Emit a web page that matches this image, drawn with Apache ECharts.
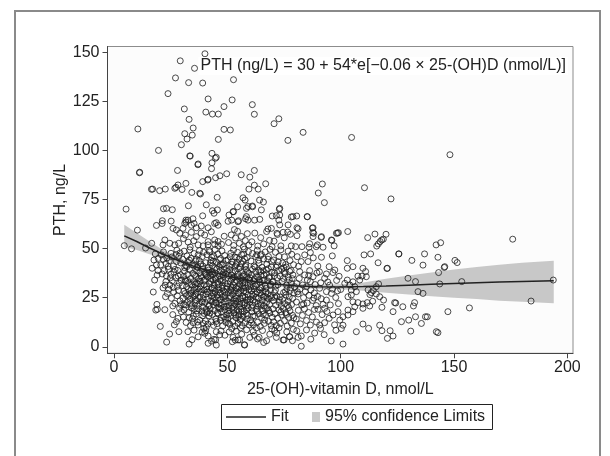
<!DOCTYPE html>
<html><head><meta charset="utf-8">
<script src="https://cdn.jsdelivr.net/npm/echarts@6/dist/echarts.min.js"></script>
<style>html,body{margin:0;padding:0;background:#fff}#c{width:610px;height:456px}</style>
</head><body><div id="c"></div>
<script>
const xTicks = [0, 50, 100, 150, 200];
const yTicks = [0, 25, 50, 75, 100, 125, 150];
const equation = 'PTH (ng/L) = 30 + 54*e[\u22120.06 \u00d7 25-(OH)D (nmol/L)]';

// fitted curve and 95% confidence limits
const fitX    = [4.5, 10, 15, 20, 25, 30, 35, 40, 50, 60, 70, 80, 90, 100, 110, 120, 130, 140, 150, 160, 170, 180, 194];
const fitY    = [56.5, 53.6, 50.7, 48.0, 45.5, 43.2, 41.1, 39.2, 36.0, 33.6, 32.0, 31.1, 30.6, 30.5, 30.7, 31.0, 31.4, 31.8, 32.2, 32.6, 33.0, 33.3, 33.7];
const ciLower = [51.0, 49.3, 47.4, 45.6, 43.6, 41.6, 39.7, 37.9, 34.8, 32.5, 30.9, 30.0, 29.6, 29.3, 28.6, 27.5, 26.6, 25.8, 25.0, 24.3, 23.5, 22.9, 22.2];
const ciUpper = [62.2, 58.0, 54.1, 50.5, 47.4, 44.8, 42.5, 40.5, 37.2, 34.7, 33.1, 32.2, 31.6, 31.8, 32.8, 34.6, 36.3, 37.9, 39.4, 40.6, 41.8, 42.8, 43.8];

// observations [25-(OH)D, PTH]
const highPTH = [[29.2,145.6],[35.5,141.8],[40.1,149.2],[27.1,136.9],[32.9,134.5],[39.1,134.3],[52.7,136.0],[23.8,128.9],[41.5,126.2],[52.1,125.7],[31.0,121.1],[40.5,119.5],[43.4,118.5],[46.0,118.5],[48.5,122.3],[61.0,123.3],[61.9,118.4],[33.1,115.8],[72.7,116.1],[70.6,113.6],[34.9,111.4],[10.5,110.9],[31.2,108.5],[34.5,107.8],[32.2,105.8],[48.5,110.7],[51.3,110.4],[46.0,105.6],[76.7,105.1],[83.4,109.2],[29.7,102.9],[19.6,100.0],[43.2,98.5],[45.1,96.5],[33.6,97.1],[43.2,93.7],[37.0,92.7],[43.0,90.7],[11.2,88.6],[28.0,89.8],[49.7,88.1],[46.7,87.1],[41.3,84.9],[39.1,84.1],[44.8,86.1],[56.1,87.6],[59.9,86.4],[61.9,89.8],[61.9,82.3],[66.9,83.0],[59.5,80.3],[63.6,80.3],[91.9,82.9],[90.1,78.3],[92.8,73.4],[17.0,80.3],[20.1,79.5],[22.6,80.3],[27.3,81.2],[31.7,83.2],[30.0,80.1],[34.3,78.6],[38.1,77.8],[45.5,76.1],[56.9,75.9],[57.8,74.7],[64.2,74.7],[65.9,73.7],[5.3,70.1],[21.8,70.3],[25.7,69.8],[32.8,71.8],[40.7,72.3],[43.4,69.3],[52.7,68.8],[61.1,71.3],[54.5,71.3],[72.9,70.1],[85.3,66.2],[78.2,66.1],[80.6,66.6],[69.8,66.6],[72.7,64.5],[64.3,64.9],[58.0,65.2],[54.9,64.2],[50.3,63.9],[45.1,63.2],[39.1,66.7],[34.8,65.2],[31.7,64.5],[25.2,64.0],[21.3,64.2],[18.7,61.8],[31.7,63.5],[10.3,59.4],
[23.1,70.5],[45.6,69.7],[44.1,68.0],[21.2,62.8],[26.0,60.3],[30.4,60.3],[31.2,62.8],[32.6,64.5],[34.1,61.9],[35.3,62.8],[36.3,60.6],[38.5,61.5],[41.5,60.6],[44.4,62.8],[45.9,61.9],[59.1,71.4],[61.0,71.7],[58.4,70.5],[65.0,69.7],[52.5,68.8],[50.7,67.1],[51.9,64.5],[54.7,63.7],[58.4,66.3],[59.1,64.5],[62.0,64.5],[71.6,66.8],[73.1,67.1],[85.2,66.3],[69.4,60.3],[73.1,62.1],[76.8,62.1],[80.7,60.6],[67.9,60.0],[87.8,60.6],[37.8,78.2],[16.5,80.2],[26.8,80.7],[28.2,82.4],[33.4,97.2],[37.1,93.1],[44.7,96.0],[11.3,88.9],[41.5,85.3],[73.1,70.5],[78.9,66.3],[87.5,60.5],[81.2,60.1]];

const rightTail = [[110.3,46.8],[113.2,47.3],[125.7,47.3],[137.0,47.3],[142.9,45.6],[102.9,43.9],[105.4,40.8],[102.9,40.0],[109.8,40.0],[111.0,38.3],[111.3,35.7],[109.4,36.0],[116.5,42.8],[120.6,40.0],[131.4,44.0],[136.3,41.6],[145.9,40.8],[143.2,37.8],[102.9,34.0],[105.4,33.1],[107.6,36.0],[108.4,34.0],[106.2,30.6],[104.0,31.5],[101.8,32.3],[100.0,29.2],[116.7,32.0],[129.7,34.9],[133.0,33.2],[143.7,32.0],[104.7,28.9],[106.9,28.1],[104.7,26.4],[103.2,25.5],[113.5,27.6],[115.7,26.9],[117.2,25.5],[134.1,28.1],[136.3,27.2],[105.4,22.9],[107.6,22.5],[109.8,21.8],[111.7,22.5],[112.8,20.8],[109.8,19.6],[106.2,20.4],[103.2,18.7],[105.4,17.9],[103.2,16.2],[101.0,15.3],[101.0,11.0],[100.3,9.3],[118.2,20.1],[123.8,22.5],[123.1,17.9],[132.6,22.5],[132.1,20.8],[126.8,12.8],[130.0,13.6],[133.0,15.3],[135.6,11.9],[137.4,15.3],[138.2,15.3],[109.8,11.6],[112.3,9.4],[117.2,11.0],[118.2,8.2],[121.8,8.2],[120.6,4.3],[123.1,5.5],[106.9,7.7],[130.9,8.0],[142.2,7.7],[142.9,7.2],[147.3,17.9],[101.0,1.4],
[103.1,58.7],[111.9,55.6],[116.6,52.4],[117.4,53.6],[118.1,54.4],[118.8,54.8],[120.0,57.3],[115.9,51.3],[115.1,57.4],[175.9,54.8],[142.1,51.9],[144.1,53.0],[150.4,44.0],[151.4,42.9],[145.7,40.4],[153.4,33.2],[193.8,34.0],[184.0,23.3],[156.8,19.8],[127.4,20.4],[124.3,22.3],[122.2,75.3],[110.5,81.0],[104.8,106.6],[148.2,97.8],[114.1,23.2],[112.9,26.6],[114.4,28.6],[118.9,23.8],[115.7,30.6],[112.1,29.0],[120.4,39.9],[125.6,47.3]];

const leftEdge = [[4.5,51.5],[7.7,49.9],[13.9,50.3],[16.6,52.7],[17.3,27.9],[18.4,18.7],[19.1,19.1],[17.6,44.2],[18.7,41.7],[19.4,38.8],[17.9,34.0],[19.0,36.5],[18.2,47.3],[19.5,45.0],[16.8,40.0],[18.9,21.6]];

const core20s = [[20.4,10.4],[24.5,6.5],[23.2,2.4],[28.6,7.7],
[28.2,14.5],[27.5,12.8],[29.7,17.9],[25.9,16.4],[22.4,18.9],[26.6,11.2],[28.9,19.6],
[23.5,27.2],[25.3,24.7],[26.8,22.1],[21.6,30.0],[24.1,29.3],[27.9,26.0],[29.1,23.4],[22.7,25.5],[28.4,28.7],[25.9,20.8],[29.6,21.5],[26.3,27.9],
[24.6,31.5],[21.2,37.1],[23.1,36.1],[22.1,38.8],[25.7,33.6],[27.2,35.2],[28.8,32.4],[26.4,38.1],[29.3,36.7],[24.0,39.5],[27.9,30.8],[29.6,33.9],[25.1,36.9],[28.1,38.9],[22.9,33.2],
[20.6,41.7],[27.5,43.4],[23.3,45.2],[25.1,47.6],[28.6,46.1],[21.8,48.3],[26.2,41.2],[29.4,42.7],[24.4,43.9],[27.7,49.2],[22.9,42.4],[29.1,47.8],
[22.4,54.4],[24.6,52.7],[26.8,51.9],[28.5,52.7],[21.6,51.9],[27.5,59.5],[29.0,57.8]];

const core30s = [[33.1,1.4],[32.6,7.7],[35.3,8.5],[37.1,5.1],[38.9,7.5],[34.4,3.6],[39.6,9.4],
[37.1,11.1],[30.6,15.2],[31.8,12.4],[32.9,17.6],[33.7,10.8],[34.6,14.3],[35.4,19.1],[36.2,16.7],[37.9,13.5],[38.7,18.2],[39.4,11.9],[30.9,18.8],[33.2,14.9],[36.8,12.6],[39.1,15.8],
[31.5,21.3],[30.4,24.8],[30.8,28.3],[31.9,26.1],[32.4,22.7],[32.8,29.4],[33.5,24.2],[33.9,27.3],[34.3,20.9],[34.8,25.6],[35.2,28.8],[35.7,22.4],[36.1,26.9],[36.5,23.5],[36.9,29.6],[37.4,21.7],[37.8,25.2],[38.2,27.8],[38.6,23.1],[39.0,20.4],[39.3,26.4],[39.7,28.9],[35.9,24.0],[33.0,25.9],
[30.2,31.2],[30.7,35.8],[31.1,38.6],[31.6,33.4],[32.0,30.6],[32.5,36.9],[32.9,32.7],[33.3,39.3],[33.8,34.8],[34.2,31.6],[34.7,37.4],[35.1,33.2],[35.6,30.3],[36.0,35.9],[36.4,38.8],[36.9,32.1],[37.3,34.6],[37.8,37.7],[38.2,31.0],[38.7,35.3],[39.1,39.6],[39.6,33.8],[31.4,34.1],[35.5,36.7],[38.0,33.3],
[30.3,44.6],[30.9,48.7],[31.6,41.5],[32.2,46.3],[32.8,43.0],[33.4,49.4],[34.0,45.1],[34.6,41.8],[35.3,47.5],[35.9,43.7],[36.5,40.6],[37.1,46.8],[37.7,49.0],[38.3,42.2],[38.9,45.9],[39.5,48.1],[31.2,40.3],[36.3,44.6],[39.2,41.1],
[31.5,56.9],[34.1,58.3],[36.3,56.1],[37.1,51.9],[39.3,51.4],[32.7,53.3],[30.6,55.1],[35.2,54.0],[38.4,57.9],[33.6,50.8]];

const core40s = [[40.0,6.9],[41.5,5.5],[44.1,3.8],[45.1,0.9],[45.1,7.7],[40.7,9.9],[41.5,1.8],[44.8,3.5],[47.2,8.1],[48.9,5.9],
[40.3,13.2],[40.9,17.4],[41.4,11.6],[41.9,15.8],[42.4,19.3],[42.9,12.7],[43.4,16.5],[43.9,10.9],[44.4,18.4],[44.9,14.1],[45.4,11.8],[45.9,16.9],[46.4,19.7],[46.9,13.5],[47.4,17.8],[47.9,10.6],[48.4,15.3],[48.9,18.9],[49.4,12.4],[49.8,16.2],
[40.2,22.6],[40.6,26.9],[41.0,29.3],[41.4,24.1],[41.8,20.8],[42.2,27.6],[42.6,23.4],[43.0,25.8],[43.4,29.7],[43.8,21.5],[44.2,24.9],[44.6,28.2],[45.0,22.3],[45.4,26.4],[45.8,20.2],[46.2,29.0],[46.6,23.8],[47.0,27.1],[47.4,21.1],[47.8,25.4],[48.2,28.6],[48.6,22.9],[49.0,26.2],[49.4,20.6],[49.8,29.4],[43.6,27.3],[47.2,24.0],
[40.1,33.9],[40.5,37.2],[40.9,30.7],[41.3,35.6],[41.7,39.1],[42.1,32.2],[42.5,36.4],[42.9,30.1],[43.3,38.2],[43.7,34.0],[44.1,31.5],[44.5,37.7],[44.9,35.2],[45.3,39.6],[45.7,32.8],[46.1,30.4],[46.5,36.1],[46.9,38.8],[47.3,33.5],[47.7,31.1],[48.1,35.8],[48.5,39.3],[48.9,32.6],[49.3,37.0],[49.7,30.9],[42.8,34.6],[46.7,34.3],
[40.4,42.8],[41.0,46.9],[41.6,40.5],[42.2,48.4],[42.8,44.1],[43.4,41.3],[44.0,46.2],[44.6,49.5],[45.2,43.0],[45.8,47.3],[46.4,40.9],[47.0,45.0],[47.6,48.8],[48.2,42.3],[48.8,46.5],[49.4,44.0],[43.7,43.6],[46.9,42.0],[41.9,49.1],
[40.0,56.9],[41.5,53.6],[44.4,54.4],[45.9,53.6],[41.5,51.9],[44.4,52.2],[45.9,51.4],[47.4,52.2],[48.6,56.3],[42.9,58.6]];

const core50s = [[53.5,3.4],[55.4,3.5],[57.5,1.1],[52.5,4.8],[54.7,3.5],[57.6,0.9],[59.9,4.8],[50.8,7.6],[51.9,9.3],[56.3,6.4],[58.5,8.7],[53.9,8.0],
[50.2,14.6],[50.6,18.3],[51.1,11.4],[51.5,16.0],[52.0,19.5],[52.4,12.9],[52.9,17.2],[53.3,10.5],[53.8,14.8],[54.2,18.7],[54.7,11.9],[55.1,16.4],[55.6,13.6],[56.0,19.2],[56.5,10.8],[56.9,15.5],[57.4,18.0],[57.8,12.3],[58.3,16.9],[58.7,14.2],[59.2,19.8],[59.6,11.1],
[50.1,23.3],[50.4,27.5],[50.8,21.0],[51.1,25.6],[51.5,29.1],[51.8,22.4],[52.2,26.7],[52.5,20.5],[52.9,24.2],[53.2,28.3],[53.6,21.8],[53.9,25.9],[54.3,29.6],[54.6,23.0],[55.0,27.1],[55.3,20.3],[55.7,24.6],[56.0,28.7],[56.4,22.2],[56.7,26.0],[57.1,29.9],[57.4,21.4],[57.8,25.3],[58.1,27.9],[58.5,23.7],[58.8,20.9],[59.2,26.5],[59.5,29.2],[59.9,22.8],[54.0,24.8],
[50.2,32.1],[50.6,36.3],[51.0,39.2],[51.4,30.6],[51.8,34.4],[52.2,37.8],[52.6,31.5],[53.0,35.5],[53.4,38.6],[53.8,30.2],[54.2,33.7],[54.6,37.0],[55.0,39.8],[55.4,31.9],[55.8,35.1],[56.2,38.3],[56.6,30.8],[57.0,34.0],[57.4,36.8],[57.8,32.6],[58.2,39.4],[58.6,35.7],[59.0,31.3],[59.4,37.5],[59.8,33.9],[53.1,33.0],[56.9,36.0],
[50.3,44.3],[50.9,41.0],[51.5,47.6],[52.1,43.2],[52.7,49.3],[53.3,45.7],[53.9,41.8],[54.5,48.1],[55.1,44.6],[55.7,40.4],[56.3,46.9],[56.9,43.5],[57.5,49.7],[58.1,41.6],[58.7,45.4],[59.3,48.5],[54.2,43.0],[57.2,47.2],[51.2,45.9],
[50.5,53.1],[51.7,57.0],[52.8,51.6],[53.6,55.4],[54.5,58.8],[55.3,52.7],[56.2,56.2],[57.0,50.9],[57.9,54.1],[58.8,57.6],[59.5,51.8],[53.1,59.7]];

const core60s = [[63.3,4.0],[67.3,3.1],[64.0,4.8],[61.4,7.8],[62.8,9.6],[65.5,8.3],[68.7,6.4],[69.6,9.1],
[60.3,13.7],[60.9,17.9],[61.5,11.2],[62.1,15.6],[62.7,19.0],[63.3,12.5],[63.9,16.8],[64.5,10.4],[65.1,14.9],[65.7,18.4],[66.3,11.9],[66.9,16.1],[67.5,19.6],[68.1,13.0],[68.7,17.2],[69.3,10.9],[69.8,15.1],
[60.2,24.2],[60.6,28.5],[61.0,21.3],[61.4,26.0],[61.8,29.5],[62.2,22.7],[62.6,25.2],[63.0,27.8],[63.4,20.6],[63.8,24.9],[64.2,29.0],[64.6,22.1],[65.0,26.5],[65.4,23.6],[65.8,28.2],[66.2,20.9],[66.6,25.7],[67.0,29.7],[67.4,22.9],[67.8,27.1],[68.2,24.4],[68.6,21.6],[69.0,28.8],[69.5,25.0],
[60.1,32.4],[60.6,36.8],[61.1,39.5],[61.5,30.7],[62.0,34.5],[62.5,38.1],[63.0,31.6],[63.4,35.4],[63.9,39.0],[64.4,32.9],[64.8,36.3],[65.3,30.2],[65.8,38.7],[66.2,34.0],[66.7,31.3],[67.2,37.2],[67.7,33.6],[68.1,39.8],[68.6,35.7],[69.1,31.9],[69.6,37.9],[64.0,34.2],
[60.4,43.7],[61.1,47.5],[61.8,41.2],[62.5,45.9],[63.2,49.2],[63.9,42.6],[64.6,46.4],[65.3,40.5],[66.0,44.8],[66.7,48.3],[67.4,42.0],[68.1,46.0],[68.8,49.6],[69.5,43.4],[65.0,47.1],
[60.8,53.5],[62.1,57.9],[63.4,51.3],[64.7,55.6],[66.0,52.4],[67.3,58.7],[68.6,54.2],[69.7,51.0]];

const core70s = [[75.0,3.5],[77.4,5.2],[74.6,3.5],[71.6,4.8],[77.5,5.1],[70.9,8.4],[72.8,9.7],[76.2,7.6],[79.1,8.9],
[70.4,12.7],[71.0,16.9],[71.6,10.8],[72.2,14.6],[72.8,18.8],[73.4,11.9],[74.0,16.2],[74.6,19.5],[75.2,13.3],[75.8,17.4],[76.4,10.6],[77.0,15.0],[77.6,18.3],[78.2,12.1],[78.8,16.0],
[70.3,23.5],[70.8,27.6],[71.3,21.2],[71.8,25.8],[71.2,28.9],[72.8,22.6],[73.3,25.4],[73.8,20.7],[74.3,24.1],[75.6,28.0],[75.3,22.0],[75.8,26.4],[76.3,29.6],[76.8,23.2],[77.3,25.3],[77.8,28.7],[78.3,21.5],[78.8,24.7],[79.4,27.3],
[70.2,33.1],[70.8,37.6],[71.4,31.0],[72.0,35.2],[72.6,38.9],[73.3,36.0],[74.0,39.5],[74.7,34.8],[75.4,37.2],[76.1,31.4],[76.8,35.5],[77.5,38.4],[78.2,32.3],[78.9,36.6],[79.6,30.6],[77.3,34.1],
[70.4,44.2],[71.2,48.1],[72.0,41.3],[72.8,46.0],[73.6,49.4],[74.4,42.7],[75.2,45.8],[76.0,40.6],[76.8,48.7],[77.6,43.9],[78.4,47.1],[79.2,41.8],[74.9,40.3],
[70.6,53.8],[72.1,57.2],[73.6,51.4],[75.1,55.5],[76.6,58.4],[78.2,51.4],[71.9,57.8],[74.6,58.3],[77.8,57.3]];

const core80s = [[82.6,5.5],[81.2,4.8],[84.9,8.6],[82.6,0.3],[80.6,8.2],[86.8,3.9],[88.5,7.0],
[86.6,11.1],[80.4,14.2],[81.3,18.6],[82.2,11.7],[83.1,16.0],[84.0,19.3],[84.9,13.4],[85.8,17.5],[87.5,15.2],[88.4,19.0],[89.3,12.6],[90.0,19.1],
[80.5,22.8],[81.2,26.9],[82.0,29.3],[82.8,21.4],[83.6,25.0],[84.4,28.1],[85.2,22.3],[86.0,26.2],[86.8,29.0],[87.6,23.6],[88.4,27.4],[89.2,21.0],[89.8,25.6],
[84.9,30.6],[86.6,33.2],[87.8,35.7],[81.9,38.3],[84.1,36.6],[86.3,38.8],[80.6,32.2],[81.7,34.8],[83.2,31.5],[85.3,34.0],[88.7,31.7],[89.5,37.6],
[84.1,46.8],[86.6,48.0],[82.6,43.4],[85.6,43.4],[89.9,41.1],[80.8,45.9],[87.9,45.3],[81.4,41.0],
[80.1,51.0],[82.9,51.0],[86.0,50.7],[89.2,51.0],[86.3,52.5],[89.7,51.9],[88.1,57.8],[87.8,56.1],[80.7,56.6],[87.7,58.2]];

const core90s = [[92.7,6.2],[95.8,3.0],[97.9,8.4],[91.1,9.3],
[96.6,16.2],[94.9,14.5],[92.9,12.3],[90.7,11.1],[92.9,19.6],[98.8,17.9],[99.6,13.6],[91.8,16.4],[97.3,11.2],[93.9,18.0],
[90.7,29.8],[93.7,28.1],[95.9,27.2],[93.7,23.8],[95.4,21.3],[91.4,24.5],[97.8,25.1],[99.0,22.0],[92.2,21.6],[96.4,29.4],[98.6,28.5],
[92.9,34.9],[93.7,37.1],[96.6,37.8],[97.4,39.1],[91.2,32.6],[95.1,31.4],[98.2,33.8],[90.6,38.2],[99.3,35.9],[94.3,33.0],
[91.5,45.6],[96.3,46.3],[94.9,40.8],[92.2,50.7],[97.1,51.4],
[91.5,56.1],[95.9,54.4],[98.1,57.8],[96.1,54.2],[91.4,55.7],[99.0,58.1],[98.6,57.9]];

const coreDense = [[31.3,27.1],[33.7,22.0],[35.8,31.9],[37.2,19.4],[38.4,36.2],[41.2,18.0],[42.7,33.3],[43.9,26.6],[44.6,40.2],[46.3,21.9],[47.6,29.8],[48.3,37.9],[49.1,14.0],[51.4,33.3],[52.7,18.5],[53.4,41.0],[54.8,27.6],[55.9,14.2],[56.8,32.3],[57.7,22.5],[58.9,38.1],[60.7,19.8],[61.6,33.6],[62.4,27.0],[63.7,44.1],[64.9,21.3],[66.1,36.6],[67.6,24.9],[68.9,31.2],[70.1,19.3],[71.5,40.5],[72.9,24.0],[74.2,33.2],[76.5,21.1],[78.1,38.9],[79.3,14.8],
[32.4,33.8],[34.1,19.8],[35.5,41.5],[36.7,27.7],[38.9,22.6],[39.8,31.6],[40.8,36.4],[42.0,21.2],[43.1,45.6],[44.3,29.9],[45.6,17.3],[46.8,27.6],[47.9,36.8],[48.7,20.3],[50.0,38.4],[50.9,24.9],[52.3,30.1],[53.6,16.3],[54.4,35.6],[55.5,21.7],[56.1,42.2],[57.3,28.4],[58.4,18.9],[59.3,34.4],[60.9,26.8],[62.2,40.6],[63.1,18.2],[64.3,27.3],[65.6,33.7],[66.8,19.7],[67.9,44.6],[69.2,26.1],[70.7,36.2],[73.6,17.8],[75.7,41.9],[77.9,30.1],
[30.8,21.6],[32.1,40.8],[33.9,29.0],[35.0,15.7],[36.4,32.6],[37.6,43.9],[39.4,24.5],[40.6,19.1],[41.9,37.8],[43.2,23.0],[44.7,34.4],[45.9,25.1],[46.5,44.3],[47.3,14.9],[48.8,27.9],[49.6,39.9],[50.7,16.9],[51.9,36.5],[52.9,22.2],[54.1,45.5],[55.2,30.6],[56.6,17.9],[57.9,40.9],[59.1,24.1],[60.3,30.5],[61.2,15.6],[62.9,35.8],[64.7,30.1],[65.9,25.4],[67.1,39.2],[68.3,18.4],[69.9,33.0],[71.0,25.2],[72.4,43.3],[74.8,27.6],[76.0,16.5],[78.6,34.7],[80.9,28.0],[83.6,21.7],[85.9,36.3],[88.2,24.8]];

const coreDense2 = [[21.7,44.6],[23.9,40.9],[25.6,45.8],[26.9,39.4],[24.8,35.1],[22.5,31.4],[27.4,47.0],[28.3,36.0],[20.9,46.8],[26.1,30.2],
[36.6,18.3],[38.1,29.4],[39.9,37.4],[41.1,27.9],[42.3,17.2],[43.6,36.9],[44.8,22.8],[46.0,31.8],[47.1,19.5],[48.0,33.9],[49.2,24.6],[50.4,19.9],[51.6,28.5],[52.4,35.0],[53.7,23.3],[55.0,18.1],[55.9,33.8],[56.9,24.9],[58.0,30.0],[58.9,16.0],[60.0,35.2],[61.3,23.7],[62.3,31.0],[63.6,21.9],[64.6,38.3],[65.8,16.6],[67.0,27.9],[68.4,35.1],
[33.2,44.2],[35.7,26.0],[37.0,40.4],[39.7,17.0],[42.5,42.7],[45.1,12.9],[47.7,41.7],[50.5,12.1],[52.0,41.9],[54.9,15.4],[57.6,44.9],[60.6,12.2],[63.0,46.9],[66.4,13.6],[69.4,40.8],[72.3,31.6],[75.1,38.3],[77.1,20.0],
[34.9,12.3],[40.4,8.2],[46.6,6.1],[52.2,2.6],[55.8,9.7],[61.9,5.9],[66.0,2.2],[71.8,7.0],[78.7,3.1],[43.0,2.9]];

const observations = [].concat(highPTH, rightTail, leftEdge, core20s, core30s, core40s, core50s, core60s, core70s, core80s, core90s, coreDense, coreDense2);
const fitLine = fitX.map((x, i) => [x, fitY[i]]);
const bandData = fitX.map((x, i) => [x, ciLower[i], ciUpper[i]]);

const FONT = 'Liberation Sans';
const txt = { fontSize: 16, fontFamily: FONT, color: '#222' };
const chart = echarts.init(document.getElementById('c'), null, { renderer: 'canvas' });

function renderBand(params, api) {
  if (params.dataIndex !== 0) return null;
  const pts = [];
  for (let i = 0; i < bandData.length; i++) pts.push(api.coord([bandData[i][0], bandData[i][2]]));
  for (let i = bandData.length - 1; i >= 0; i--) pts.push(api.coord([bandData[i][0], bandData[i][1]]));
  return { type: 'polygon', shape: { points: pts }, style: { fill: '#c8c8c8', stroke: 'none' } };
}

chart.setOption({
  animation: false,
  backgroundColor: '#ffffff',
  title: {
    text: equation, right: 42, top: 57, padding: [1, 2],
    backgroundColor: '#ffffff',
    textStyle: { fontSize: 16, fontFamily: FONT, fontWeight: 'normal', color: '#222' }
  },
  grid: { left: 107.5, top: 46.5, width: 465.5, height: 306.8, show: true, borderColor: '#8c8c8c', borderWidth: 1, backgroundColor: '#fcfcfc' },
  xAxis: {
    type: 'value', min: -2.9, max: 202.5,
    axisLine: { onZero: false, lineStyle: { color: '#444', width: 1 } },
    axisTick: { customValues: xTicks, length: 5, lineStyle: { color: '#444' } },
    axisLabel: Object.assign({ customValues: xTicks, margin: 6 }, txt),
    splitLine: { show: false },
    name: '25-(OH)-vitamin D, nmol/L', nameLocation: 'middle', nameGap: 28, nameTextStyle: txt
  },
  yAxis: {
    type: 'value', min: -3.3, max: 152.9,
    axisLine: { onZero: false, lineStyle: { color: '#444', width: 1 } },
    axisTick: { customValues: yTicks, length: 5, lineStyle: { color: '#444' } },
    axisLabel: Object.assign({ customValues: yTicks, margin: 8 }, txt),
    splitLine: { show: false },
    name: 'PTH, ng/L', nameLocation: 'middle', nameGap: 39, nameMoveOverlap: false, nameTextStyle: txt
  },
  legend: [
    { data: [{ name: 'Fit', icon: 'rect' }], left: 226, top: 409, padding: 0, itemWidth: 40, itemHeight: 1.5, selectedMode: false, textStyle: txt },
    { data: [{ name: '95% confidence Limits', icon: 'rect' }], left: 312, top: 409, padding: 0, itemWidth: 8, itemHeight: 10, selectedMode: false, textStyle: txt }
  ],
  graphic: [
    { type: 'rect', silent: true, z: -10, shape: { x: 15, y: 11, width: 585, height: 470 }, style: { fill: 'none', stroke: '#8a8a8a', lineWidth: 2 } },
    { type: 'rect', silent: true, z: -5, shape: { x: 221.5, y: 404.5, width: 271, height: 25 }, style: { fill: 'none', stroke: '#222', lineWidth: 1 } }
  ],
  series: [
    { name: '95% confidence Limits', type: 'custom', data: bandData, encode: { x: 0, y: [1, 2] }, renderItem: renderBand, itemStyle: { color: '#c8c8c8' }, silent: true, z: 1 },
    { name: 'obs', type: 'scatter', data: observations, symbol: 'circle', symbolSize: 6, itemStyle: { color: 'rgba(0,0,0,0)', borderColor: '#1e1e1e', borderWidth: 1 }, silent: true, z: 2 },
    { name: 'Fit', type: 'line', data: fitLine, showSymbol: false, symbol: 'none', itemStyle: { color: '#222' }, lineStyle: { color: '#222', width: 1.5 }, silent: true, z: 3 }
  ]
});
</script>
</body></html>
